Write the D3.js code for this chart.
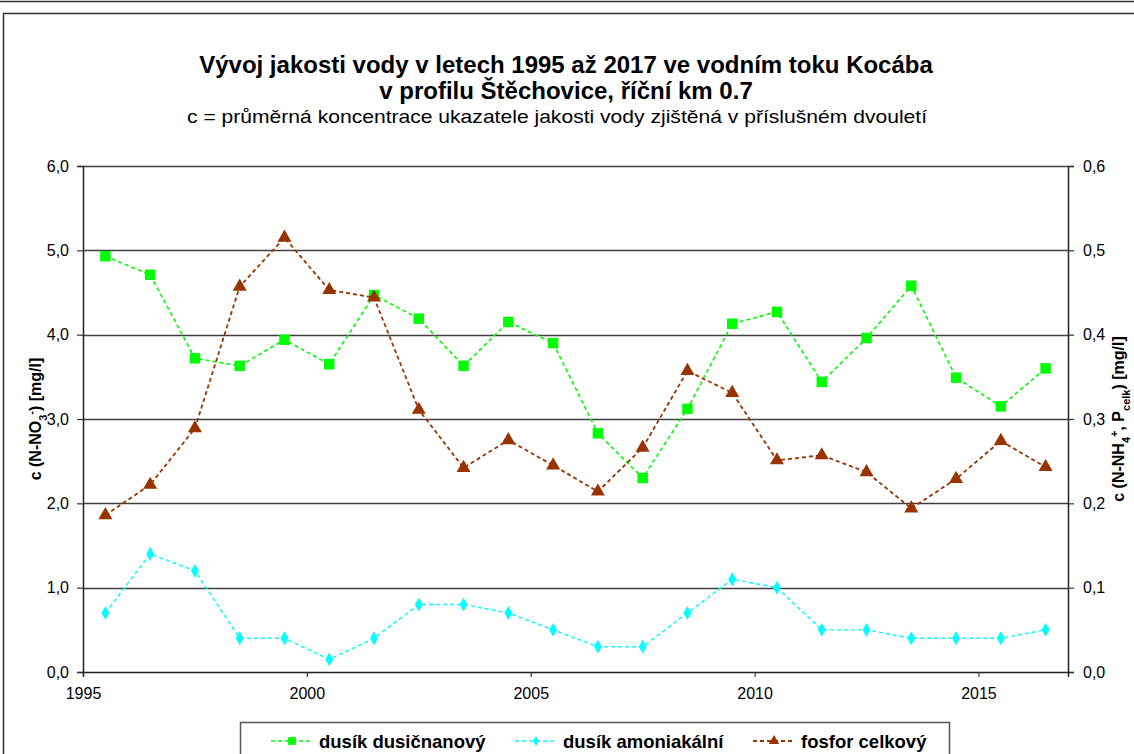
<!DOCTYPE html>
<html>
<head>
<meta charset="utf-8">
<script src="https://cdn.jsdelivr.net/npm/d3@7"></script>
<style>
  body { margin: 0; background: #fff; }
  svg text { font-family: "Liberation Sans", Arial, sans-serif; fill: #000; }
</style>
</head>
<body>
<div id="chart"></div>
<script>
// hodnoty (body uprostřed dvouletí)
var years = [1995.5, 1996.5, 1997.5, 1998.5, 1999.5, 2000.5, 2001.5, 2002.5, 2003.5, 2004.5, 2005.5,
             2006.5, 2007.5, 2008.5, 2009.5, 2010.5, 2011.5, 2012.5, 2013.5, 2014.5, 2015.5, 2016.5];
var dusicnan = [4.93, 4.71, 3.72, 3.63, 3.94, 3.65, 4.47, 4.19, 3.63, 4.15, 3.90,
                2.83, 2.30, 3.12, 4.13, 4.27, 3.44, 3.96, 4.58, 3.49, 3.15, 3.60];
var amoniak = [0.070, 0.140, 0.120, 0.040, 0.040, 0.015, 0.040, 0.080, 0.080, 0.070, 0.050,
               0.030, 0.030, 0.070, 0.110, 0.100, 0.050, 0.050, 0.040, 0.040, 0.040, 0.050];
var fosfor = [0.186, 0.222, 0.289, 0.457, 0.515, 0.453, 0.444, 0.311, 0.242, 0.275, 0.245,
              0.214, 0.266, 0.357, 0.331, 0.251, 0.257, 0.237, 0.194, 0.229, 0.274, 0.243];
var xTicks = [1995, 2000, 2005, 2010, 2015];
var yTicksLeft = [0, 1, 2, 3, 4, 5, 6];
var yTicksRight = [0, 0.1, 0.2, 0.3, 0.4, 0.5, 0.6];
var seriesNames = ["dusík dusičnanový", "dusík amoniakální", "fosfor celkový"];

var W = 1134, H = 754;
var margin = { top: 166, right: 66, bottom: 82, left: 83 },
    width = W - margin.left - margin.right,
    height = H - margin.top - margin.bottom;

var svg = d3.select("#chart").append("svg")
    .attr("width", W)
    .attr("height", H);

// rámečky
svg.append("line").attr("x1", 0).attr("x2", W).attr("y1", 1.5).attr("y2", 1.5)
    .attr("stroke", "#333").attr("stroke-width", 1.5);
svg.append("rect").attr("x", 3.5).attr("y", 13.5).attr("width", W).attr("height", H)
    .attr("fill", "none").attr("stroke", "#333").attr("stroke-width", 1.5);

// nadpis
svg.append("text").attr("x", 566).attr("y", 73).attr("text-anchor", "middle")
    .style("font-size", "24px").style("font-weight", "bold")
    .text("Vývoj jakosti vody v letech 1995 až 2017 ve vodním toku Kocába");
svg.append("text").attr("x", 566).attr("y", 99).attr("text-anchor", "middle")
    .style("font-size", "24px").style("font-weight", "bold")
    .text("v profilu Štěchovice, říční km 0.7");
svg.append("text").attr("x", 557).attr("y", 123).attr("text-anchor", "middle")
    .style("font-size", "19px")
    .attr("textLength", 740).attr("lengthAdjust", "spacingAndGlyphs")
    .text("c = průměrná koncentrace ukazatele jakosti vody zjištěná v příslušném dvouletí");

var g = svg.append("g")
    .attr("transform", "translate(" + margin.left + "," + margin.top + ")");

var x = d3.scaleLinear().domain([1995, 2017]).range([0, width]);
var y = d3.scaleLinear().domain([0, 6]).range([height, 0]);
var y2 = d3.scaleLinear().domain([0, 0.6]).range([height, 0]);

// mřížka
g.selectAll(".grid").data(yTicksLeft.slice(1))
  .enter().append("line")
    .attr("class", "grid")
    .attr("x1", 0).attr("x2", width)
    .attr("y1", function (d) { return Math.round(y(d)) + 0.5; })
    .attr("y2", function (d) { return Math.round(y(d)) + 0.5; })
    .attr("stroke", "#404040").attr("stroke-width", 1.3);

var fmt = function (d) { return d3.format(".1f")(d).replace(".", ","); };

var gyl = g.append("g")
    .call(d3.axisLeft(y).tickValues(yTicksLeft).tickFormat(fmt).tickSize(6).tickPadding(8));
var gyr = g.append("g")
    .attr("transform", "translate(" + width + ",0)")
    .call(d3.axisRight(y2).tickValues(yTicksRight).tickFormat(fmt).tickSize(6).tickPadding(9));
var gx = g.append("g")
    .attr("transform", "translate(0," + height + ")")
    .call(d3.axisBottom(x).tickValues(xTicks).tickFormat(d3.format("d")).tickSize(5).tickPadding(8));

[gyl, gyr, gx].forEach(function (a) {
    a.select(".domain").attr("stroke", "#222").attr("stroke-width", 1.5);
    a.selectAll(".tick line").attr("stroke", "#333").attr("stroke-width", 1.2);
    a.selectAll("text").style("font-size", "16px").style("font-family", "'Liberation Sans', Arial, sans-serif").attr("fill", "#000");
});
gx.selectAll(".tick text").attr("dy", "0.85em");

// popisky os
var yl = svg.append("text")
    .attr("transform", "translate(41," + (margin.top + height / 2) + ") rotate(-90)")
    .attr("text-anchor", "middle")
    .style("font-size", "16px").style("font-weight", "bold");
yl.append("tspan").text("c (N-NO");
yl.append("tspan").attr("baseline-shift", "sub").style("font-size", "11px").text("3");
yl.append("tspan").attr("baseline-shift", "super").style("font-size", "11px").text("-");
yl.append("tspan").text(")  [mg/l]");

var yr = svg.append("text")
    .attr("transform", "translate(1124," + (margin.top + height / 2) + ") rotate(-90)")
    .attr("text-anchor", "middle")
    .style("font-size", "16px").style("font-weight", "bold");
yr.append("tspan").text("c (N-NH");
yr.append("tspan").attr("baseline-shift", "sub").style("font-size", "11px").text("4");
yr.append("tspan").attr("baseline-shift", "super").style("font-size", "11px").text("+");
yr.append("tspan").text(",  P");
yr.append("tspan").attr("baseline-shift", "sub").style("font-size", "11px").text("celk");
yr.append("tspan").text(") [mg/l]");

// řady
var series = [
  { name: seriesNames[0], values: dusicnan, scale: y, color: "#00ff00", sym: d3.symbolSquare, size: 110, width: 1.6 },
  { name: seriesNames[1], values: amoniak, scale: y2, color: "#00ffff", sym: d3.symbolDiamond, size: 55, width: 1.4 },
  { name: seriesNames[2], values: fosfor, scale: y2, color: "#993300", sym: d3.symbolTriangle, size: 85, width: 1.8 }
];

series.forEach(function (s) {
    var pts = years.map(function (yr, i) { return [yr, s.values[i]]; });
    var line = d3.line()
        .x(function (d) { return x(d[0]); })
        .y(function (d) { return s.scale(d[1]); });
    g.append("path")
        .datum(pts)
        .attr("d", line)
        .attr("fill", "none")
        .attr("stroke", s.color)
        .attr("stroke-width", s.width)
        .attr("stroke-dasharray", "4,3");
    g.selectAll(".m" + s.sym.length + s.name.length)
        .data(pts)
      .enter().append("path")
        .attr("transform", function (d) { return "translate(" + x(d[0]) + "," + s.scale(d[1]) + ")"; })
        .attr("d", d3.symbol().type(s.sym).size(s.size))
        .attr("fill", s.color);
});

// legenda
var leg = svg.append("g");
leg.append("rect").attr("x", 240.5).attr("y", 722.5).attr("width", 709).attr("height", 60)
    .attr("fill", "#fff").attr("stroke", "#555").attr("stroke-width", 1.5);
var legX = [271, 515, 753];
series.forEach(function (s, i) {
    var lx = legX[i], ly = 741;
    leg.append("line").attr("x1", lx).attr("x2", lx + 42).attr("y1", ly).attr("y2", ly)
        .attr("stroke", s.color).attr("stroke-width", s.width).attr("stroke-dasharray", "4,3");
    leg.append("path")
        .attr("transform", "translate(" + (lx + 21) + "," + ly + ")")
        .attr("d", d3.symbol().type(s.sym).size(s.size * 0.55))
        .attr("fill", s.color);
    leg.append("text").attr("x", lx + 48).attr("y", ly + 6.5)
        .style("font-size", "18.5px").style("font-weight", "bold")
        .text(s.name);
});
</script>
</body>
</html>
